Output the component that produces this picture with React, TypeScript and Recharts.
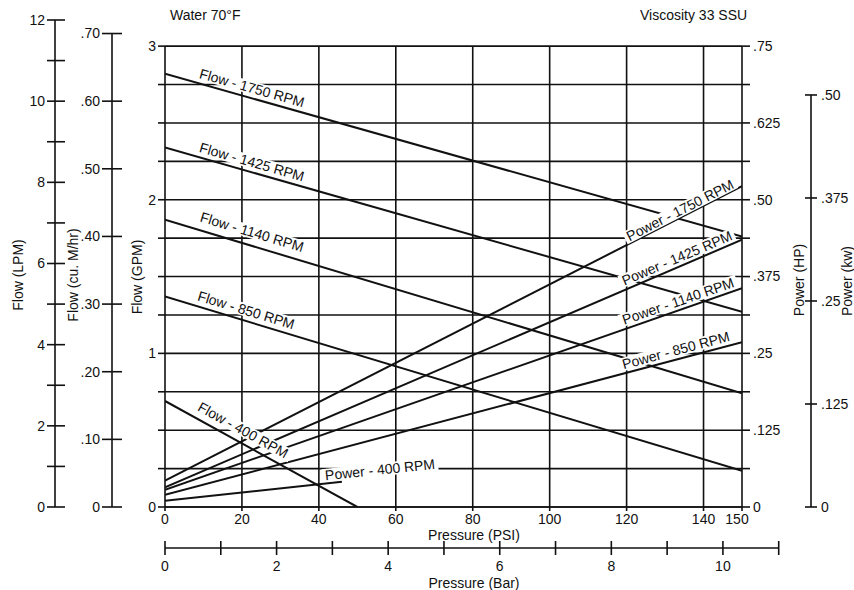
import React from 'react';
import { ComposedChart, Line, XAxis, YAxis, ReferenceLine, ReferenceDot } from 'recharts';

// pump curve values
const PSI_TICKS = [0, 20, 40, 60, 80, 100, 120, 140, 150];
const GPM_TICKS = [0, 0.25, 0.5, 0.75, 1, 1.25, 1.5, 1.75, 2, 2.25, 2.5, 2.75, 3];
const HP_TICKS = [0, 0.0625, 0.125, 0.1875, 0.25, 0.3125, 0.375, 0.4375, 0.5, 0.5625, 0.625, 0.6875, 0.75];
const LPM_TICKS = [0, 1, 2, 3, 4, 5, 6, 7, 8, 9, 10, 11, 12];
const CUM_TICKS = [0, 0.1, 0.2, 0.3, 0.4, 0.5, 0.6, 0.7];
const KW_TICKS = [0, 0.125, 0.25, 0.375, 0.5];
const BAR_TICKS = [0, 1, 2, 3, 4, 5, 6, 7, 8, 9, 10, 11];

const FLOW_1750 = [{ psi: 0, v: 2.82 }, { psi: 150, v: 1.76 }];
const FLOW_1425 = [{ psi: 0, v: 2.34 }, { psi: 150, v: 1.27 }];
const FLOW_1140 = [{ psi: 0, v: 1.87 }, { psi: 150, v: 0.74 }];
const FLOW_850 = [{ psi: 0, v: 1.37 }, { psi: 150, v: 0.235 }];
const FLOW_400 = [{ psi: 0, v: 0.69 }, { psi: 50, v: 0 }];

const POWER_1750 = [{ psi: 0, v: 0.043 }, { psi: 150, v: 0.522 }];
const POWER_1425 = [{ psi: 0, v: 0.032 }, { psi: 150, v: 0.435 }];
const POWER_1140 = [{ psi: 0, v: 0.028 }, { psi: 150, v: 0.356 }];
const POWER_850 = [{ psi: 0, v: 0.02 }, { psi: 150, v: 0.268 }];
const POWER_400 = [{ psi: 0, v: 0.01 }, { psi: 46, v: 0.041 }];

const FLOW_SERIES = [FLOW_1750, FLOW_1425, FLOW_1140, FLOW_850, FLOW_400];
const POWER_SERIES = [POWER_1750, POWER_1425, POWER_1140, POWER_850, POWER_400];

// scale set-up: top of the plot is 12 LPM
const GPM_MAX = 12 / 3.78541;
const HP_MAX = GPM_MAX / 4;
const KW_MAX = HP_MAX * 0.7457;
const CUM_MAX = 12 * 0.06;
const BAR_MAX = 150 / 14.5038;

// invisible carrier so the bar axis gets its own scale
const BAR_CARRIER = BAR_TICKS.map((b) => ({ bar: b, v: 0 }));

const TOP = 20;
const BOTTOM = 507;
const PLOT_H = BOTTOM - TOP;
const PLOT_W = 742 - 165;
const INK = '#111';
const FONT = 14;

const LINE_LABELS = [
  { text: 'Flow - 1750 RPM', psi: 22.6, gpm: 2.728, angle: 15.8 },
  { text: 'Flow - 1425 RPM', psi: 22.6, gpm: 2.246, angle: 15.9 },
  { text: 'Flow - 1140 RPM', psi: 22.6, gpm: 1.79, angle: 16.7 },
  { text: 'Flow - 850 RPM', psi: 21.1, gpm: 1.282, angle: 16.8 },
  { text: 'Flow - 400 RPM', psi: 20.3, gpm: 0.501, angle: 29 },
  { text: 'Power - 1750 RPM', psi: 133.9, gpm: 1.932, angle: -27 },
  { text: 'Power - 1425 RPM', psi: 133.1, gpm: 1.62, angle: -23 },
  { text: 'Power - 1140 RPM', psi: 133.4, gpm: 1.34, angle: -19 },
  { text: 'Power - 850 RPM', psi: 132.8, gpm: 1.02, angle: -15 },
  { text: 'Power - 400 RPM', psi: 55.9, gpm: 0.243, angle: -6 },
];

const frac = (v: number, digits: number, strip: boolean) => {
  if (v === 0) return '0';
  let s = v.toFixed(digits);
  if (strip) s = s.replace(/0$/, '');
  return s.replace(/^0/, '');
};

const isStep = (v: number, s: number) => Math.abs(v / s - Math.round(v / s)) < 1e-6;

const LpmTick = ({ x, y, payload }: any) => (
  <g>
    <line x1={x - 8} x2={x + 10} y1={y} y2={y} stroke={INK} strokeWidth={1.6} />
    {payload.value % 2 === 0 && (
      <text x={x - 10} y={y} dy="0.35em" textAnchor="end" fontSize={FONT} fill={INK}>{payload.value}</text>
    )}
  </g>
);

const CumTick = ({ x, y, payload }: any) => (
  <g>
    <line x1={x - 10} x2={x + 10} y1={y} y2={y} stroke={INK} strokeWidth={1.6} />
    {payload.value > 0 && (
      <line x1={x} x2={x} y1={y} y2={y + (0.1 / CUM_MAX) * PLOT_H} stroke={INK} strokeWidth={1.6} />
    )}
    <text x={x - 12} y={y} dy="0.35em" textAnchor="end" fontSize={FONT} fill={INK}>{frac(payload.value, 2, false)}</text>
  </g>
);

const GpmTick = ({ x, y, payload }: any) => (
  <g>
    <line x1={x - 7} x2={x} y1={y} y2={y} stroke={INK} strokeWidth={1.6} />
    {isStep(payload.value, 1) && (
      <text x={x - 9} y={y} dy="0.35em" textAnchor="end" fontSize={FONT} fill={INK}>{payload.value}</text>
    )}
  </g>
);

const HpTick = ({ x, y, payload }: any) => (
  <g>
    <line x1={x} x2={x + 8} y1={y} y2={y} stroke={INK} strokeWidth={1.6} />
    {isStep(payload.value, 0.125) && (
      <text x={x + 11} y={y} dy="0.35em" textAnchor="start" fontSize={FONT} fill={INK}>{frac(payload.value, 3, true)}</text>
    )}
  </g>
);

const KwTick = ({ x, y, payload }: any) => (
  <g>
    <line x1={x - 6} x2={x + 6} y1={y} y2={y} stroke={INK} strokeWidth={1.6} />
    {payload.value > 0 && (
      <line x1={x} x2={x} y1={y} y2={y + (0.125 / KW_MAX) * PLOT_H} stroke={INK} strokeWidth={1.6} />
    )}
    <text x={x + 10} y={y} dy="0.35em" textAnchor="start" fontSize={FONT} fill={INK}>{frac(payload.value, 3, true)}</text>
  </g>
);

const PsiTick = ({ x, y, payload }: any) => (
  <g>
    <line x1={x} x2={x} y1={y} y2={y + 4} stroke={INK} strokeWidth={1.6} />
    <text x={payload.value === 150 ? x - 5 : x} y={y + 12} dy="0.35em" textAnchor="middle" fontSize={FONT} fill={INK}>
      {payload.value}
    </text>
  </g>
);

const BarTick = ({ x, y, payload }: any) => (
  <g>
    <line x1={x} x2={x} y1={y - 7} y2={y + 7} stroke={INK} strokeWidth={1.6} />
    {payload.value < 11 && (
      <line x1={x} x2={x + PLOT_W / BAR_MAX} y1={y} y2={y} stroke={INK} strokeWidth={1.6} />
    )}
    {payload.value % 2 === 0 && (
      <text x={x} y={y + 18} dy="0.35em" textAnchor="middle" fontSize={FONT} fill={INK}>{payload.value}</text>
    )}
  </g>
);

const title = (text: string, cx: number, cy: number, angle = 0) => () => (
  <text
    x={cx}
    y={cy}
    dy="0.35em"
    textAnchor="middle"
    fontSize={FONT}
    fill={INK}
    transform={angle ? `rotate(${angle} ${cx} ${cy})` : undefined}
  >
    {text}
  </text>
);

const PSI_TITLE = title('Pressure (PSI)', 474, 535);
const BAR_TITLE = title('Pressure (Bar)', 474, 583);
const GPM_TITLE = title('Flow (GPM)', 137, 277, -90);
const CUM_TITLE = title('Flow (cu. M/hr)', 73, 275, -90);
const LPM_TITLE = title('Flow (LPM)', 18, 275, -90);
const HP_TITLE = title('Power (HP)', 799, 280, -90);
const KW_TITLE = title('Power (kw)', 847, 281, -90);

// rotated curve label on a white patch, so grid lines break under it
const lineLabel = (text: string, angle: number) => (props: any) => {
  const vb = props.viewBox || {};
  const cx = vb.x + (vb.width || 0) / 2;
  const cy = vb.y + (vb.height || 0) / 2;
  const w = text.length * 7.5 + 4;
  const rot = `rotate(${angle} ${cx} ${cy})`;
  return (
    <g>
      <rect x={cx - w / 2} y={cy - 6.5} width={w} height={13} fill="#fff" transform={rot} />
      <text x={cx} y={cy} dy="0.35em" textAnchor="middle" fontSize={FONT} fill={INK} transform={rot}>
        {text}
      </text>
    </g>
  );
};

const axisCommon = {
  type: 'number' as const,
  interval: 0 as const,
  allowDataOverflow: true,
  tickLine: false,
  tickSize: 0,
  tickMargin: 0,
};

const App: React.FC = () => {
  return (
    <div
      style={{
        position: 'absolute',
        left: 0,
        top: 0,
        width: 854,
        height: 590,
        background: '#fff',
        fontFamily: '"Liberation Sans", Arial, sans-serif',
      }}
    >
      <div style={{ position: 'absolute', left: 170, top: 7, fontSize: FONT, color: INK }}>Water 70°F</div>
      <div style={{ position: 'absolute', left: 640, top: 7, fontSize: FONT, color: INK }}>Viscosity 33 SSU</div>

      <ComposedChart width={854} height={590} margin={{ top: TOP, right: 0, bottom: 0, left: 0 }}>
        {/* ids are prefixed so inner axes come first */}
        <XAxis
          {...axisCommon}
          xAxisId="a_psi"
          dataKey="psi"
          domain={[0, 150]}
          ticks={PSI_TICKS}
          height={41}
          axisLine={{ stroke: INK, strokeWidth: 1.6 }}
          tick={<PsiTick />}
          label={PSI_TITLE}
        />
        <XAxis
          {...axisCommon}
          xAxisId="b_bar"
          dataKey="bar"
          domain={[0, BAR_MAX]}
          ticks={BAR_TICKS}
          height={42}
          axisLine={false}
          tick={<BarTick />}
          label={BAR_TITLE}
        />

        <YAxis
          {...axisCommon}
          yAxisId="a_gpm"
          orientation="left"
          domain={[0, GPM_MAX]}
          ticks={GPM_TICKS}
          width={53}
          axisLine={false}
          tick={<GpmTick />}
          label={GPM_TITLE}
        />
        <YAxis
          {...axisCommon}
          yAxisId="b_cum"
          orientation="left"
          domain={[0, CUM_MAX]}
          ticks={CUM_TICKS}
          width={57}
          axisLine={false}
          tick={<CumTick />}
          label={CUM_TITLE}
        />
        <YAxis
          {...axisCommon}
          yAxisId="c_lpm"
          orientation="left"
          domain={[0, 12]}
          ticks={LPM_TICKS}
          width={55}
          axisLine={{ stroke: INK, strokeWidth: 1.6 }}
          tick={<LpmTick />}
          label={LPM_TITLE}
        />
        <YAxis
          {...axisCommon}
          yAxisId="a_hp"
          orientation="right"
          domain={[0, HP_MAX]}
          ticks={HP_TICKS}
          width={69}
          axisLine={false}
          tick={<HpTick />}
          label={HP_TITLE}
        />
        <YAxis
          {...axisCommon}
          yAxisId="b_kw"
          orientation="right"
          domain={[0, KW_MAX]}
          ticks={KW_TICKS}
          width={43}
          axisLine={false}
          tick={<KwTick />}
          label={KW_TITLE}
        />

        {GPM_TICKS.map((g) => (
          <ReferenceLine key={`h${g}`} xAxisId="a_psi" yAxisId="a_gpm" y={g} stroke={INK} strokeWidth={1.6} />
        ))}
        {PSI_TICKS.map((p) => (
          <ReferenceLine
            key={`v${p}`}
            xAxisId="a_psi"
            yAxisId="a_gpm"
            segment={[{ x: p, y: 0 }, { x: p, y: 3 }]}
            stroke={INK}
            strokeWidth={1.6}
          />
        ))}

        <Line
          xAxisId="b_bar"
          yAxisId="a_gpm"
          data={BAR_CARRIER}
          dataKey="v"
          stroke="none"
          strokeWidth={0}
          dot={false}
          activeDot={false}
          isAnimationActive={false}
        />

        {FLOW_SERIES.map((d, i) => (
          <Line
            key={`f${i}`}
            xAxisId="a_psi"
            yAxisId="a_gpm"
            data={d}
            dataKey="v"
            type="linear"
            stroke={INK}
            strokeWidth={2}
            dot={false}
            activeDot={false}
            isAnimationActive={false}
          />
        ))}
        {POWER_SERIES.map((d, i) => (
          <Line
            key={`p${i}`}
            xAxisId="a_psi"
            yAxisId="a_hp"
            data={d}
            dataKey="v"
            type="linear"
            stroke={INK}
            strokeWidth={2}
            dot={false}
            activeDot={false}
            isAnimationActive={false}
          />
        ))}

        {LINE_LABELS.map((l) => (
          <ReferenceDot
            key={l.text}
            xAxisId="a_psi"
            yAxisId="a_gpm"
            x={l.psi}
            y={l.gpm}
            r={0}
            fill="none"
            stroke="none"
            label={lineLabel(l.text, l.angle)}
          />
        ))}
      </ComposedChart>
    </div>
  );
};

export default App;
